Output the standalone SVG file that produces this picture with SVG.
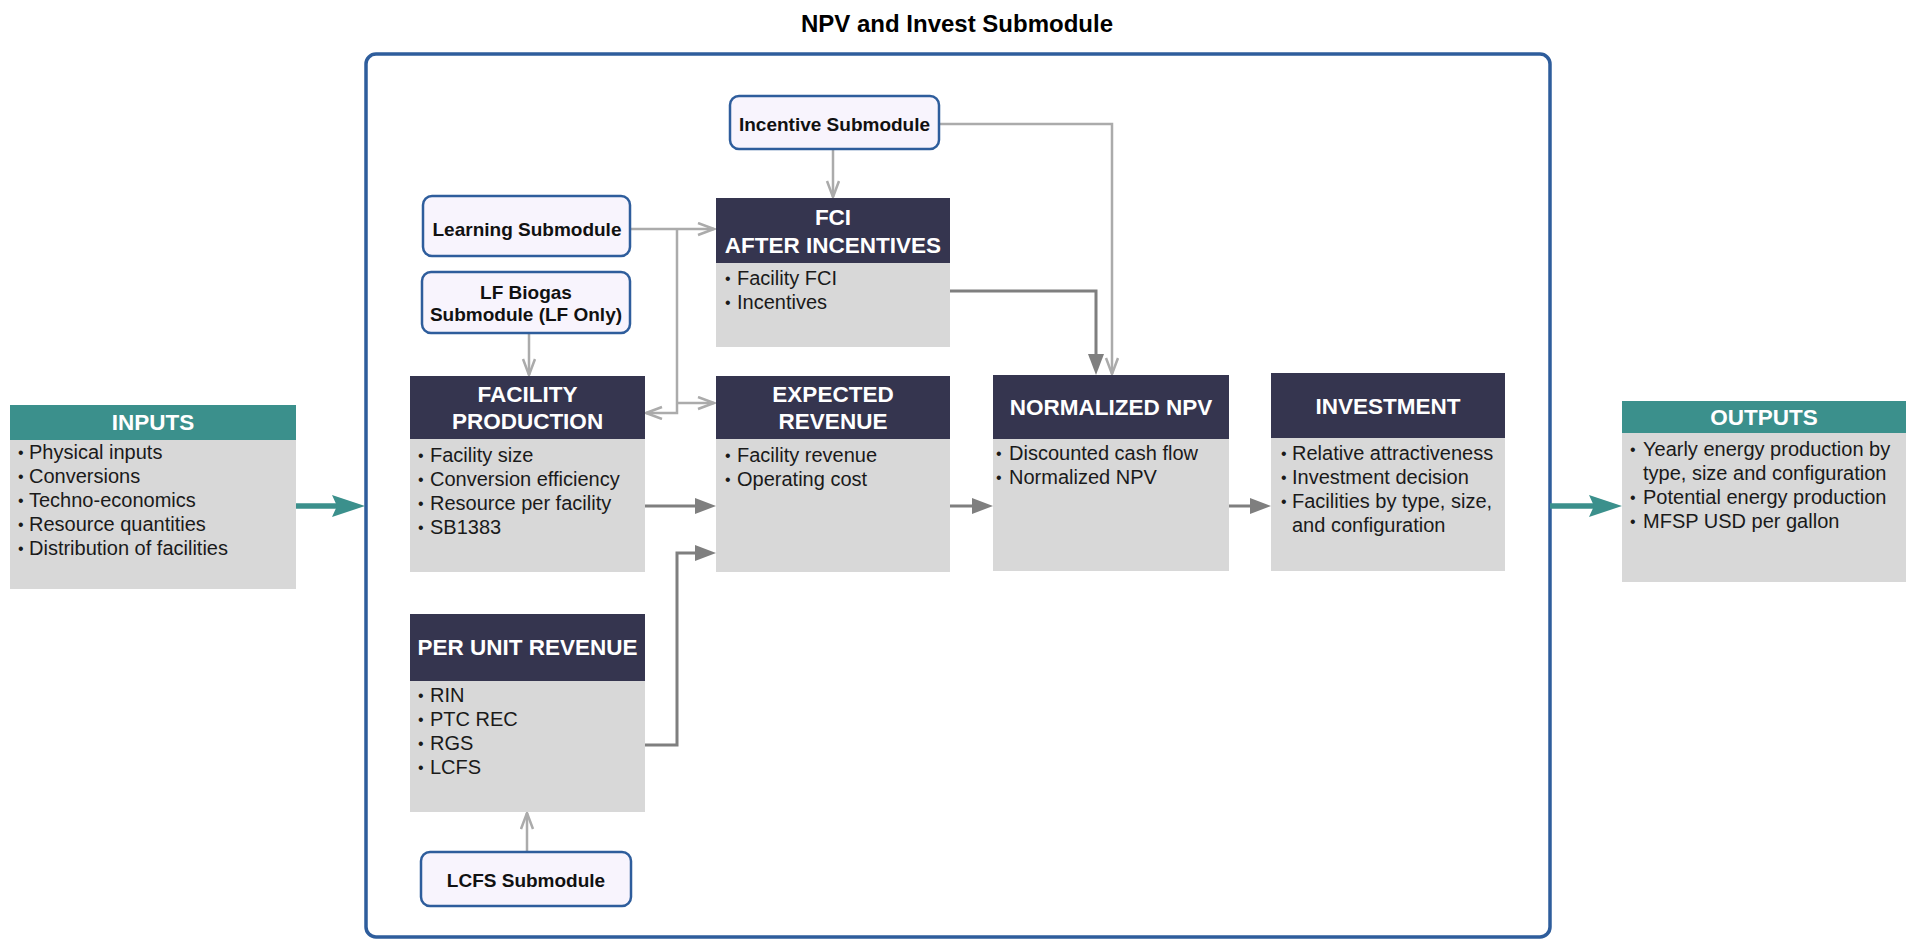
<svg xmlns="http://www.w3.org/2000/svg" width="1906" height="940" viewBox="0 0 1906 940">
  <style>
    text { font-family: "Liberation Sans", Arial, Helvetica, sans-serif; }
    .title { font-size: 24px; font-weight: bold; fill: #000; }
    .frame { fill: none; stroke: #2e5d9c; stroke-width: 3.5; }
    .sub { fill: #f8f4fd; stroke: #2e5d9c; stroke-width: 2.5; }
    .subtxt { font-size: 19px; font-weight: bold; fill: #111; text-anchor: middle; }
    .hdr { fill: #35354f; }
    .hdrtxt { font-size: 22.5px; font-weight: bold; fill: #fff; text-anchor: middle; }
    .body { fill: #d8d8d8; }
    .teal { fill: #3b908c; }
    .item { font-size: 20px; fill: #1a1a1a; }
    .item .b { font-size: 16px; transform: translateY(-1.5px); }
    .lite { fill: none; stroke: #ababab; stroke-width: 2.5; }
    .dark { fill: none; stroke: #7f7f7f; stroke-width: 3; }
    .flow { fill: none; stroke: #3b908c; stroke-width: 5.5; }
  </style>
  <defs>
    <marker id="open" markerUnits="userSpaceOnUse" markerWidth="20" markerHeight="16" viewBox="0 0 20 16" refX="17" refY="7" orient="auto">
      <path d="M1,1 L17,7 L1,13" fill="none" stroke="#ababab" stroke-width="2.5"/>
    </marker>
    <marker id="solid" markerUnits="userSpaceOnUse" markerWidth="22" markerHeight="18" viewBox="0 0 22 18" refX="12" refY="8" orient="auto">
      <path d="M0,0 L21,8 L0,16 z" fill="#7f7f7f"/>
    </marker>
    <marker id="bold" markerUnits="userSpaceOnUse" markerWidth="34" markerHeight="24" viewBox="0 0 34 24" refX="20" refY="11" orient="auto">
      <path d="M0,0 L33,11 L0,22 L5,11 z" fill="#3b908c"/>
    </marker>
  </defs>

  <rect width="1906" height="940" fill="#fff"/>

  <text class="title" x="957" y="32" text-anchor="middle">NPV and Invest Submodule</text>

  <!-- submodule boundary -->
  <rect id="npv-invest-frame" class="frame" x="366" y="54" width="1184" height="883" rx="10"/>

  <!-- connectors -->
  <g id="connectors">
    <path class="lite" d="M833,149 V197" marker-end="url(#open)"/>
    <path class="lite" d="M939,124 H1112 V374" marker-end="url(#open)"/>
    <path class="lite" d="M630,229 H714" marker-end="url(#open)"/>
    <path class="lite" d="M677,229 V413 H646" marker-end="url(#open)"/>
    <path class="lite" d="M677,403 H714" marker-end="url(#open)"/>
    <path class="lite" d="M529,333 V375" marker-end="url(#open)"/>
    <path class="lite" d="M527,852 V813" marker-end="url(#open)"/>

    <path class="dark" d="M946,291 H1096 V366" marker-end="url(#solid)"/>
    <path class="dark" d="M645,506 H707" marker-end="url(#solid)"/>
    <path class="dark" d="M645,745 H677 V553 H707" marker-end="url(#solid)"/>
    <path class="dark" d="M950,506 H984" marker-end="url(#solid)"/>
    <path class="dark" d="M1229,506 H1262" marker-end="url(#solid)"/>

    <path class="flow" d="M293,506 H352" marker-end="url(#bold)"/>
    <path class="flow" d="M1550,506 H1609" marker-end="url(#bold)"/>
  </g>

  <!-- inputs -->
  <g id="inputs">
    <rect class="body" x="10" y="440" width="286" height="149"/>
    <rect class="teal" x="10" y="405" width="286" height="35"/>
    <text class="hdrtxt" x="153" y="430" font-size="22">INPUTS</text>
    <g class="item">
      <text class="b" x="18" y="459">•</text><text x="29" y="459">Physical inputs</text>
      <text class="b" x="18" y="483">•</text><text x="29" y="483">Conversions</text>
      <text class="b" x="18" y="507">•</text><text x="29" y="507">Techno-economics</text>
      <text class="b" x="18" y="531">•</text><text x="29" y="531">Resource quantities</text>
      <text class="b" x="18" y="555">•</text><text x="29" y="555">Distribution of facilities</text>
    </g>
  </g>

  <!-- outputs -->
  <g id="outputs">
    <rect class="body" x="1622" y="433" width="284" height="149"/>
    <rect class="teal" x="1622" y="401" width="284" height="32"/>
    <text class="hdrtxt" x="1764" y="425" font-size="22">OUTPUTS</text>
    <g class="item">
      <text class="b" x="1630" y="456">•</text><text x="1643" y="456">Yearly energy production by</text>
      <text x="1643" y="480">type, size and configuration</text>
      <text class="b" x="1630" y="504">•</text><text x="1643" y="504">Potential energy production</text>
      <text class="b" x="1630" y="528">•</text><text x="1643" y="528">MFSP USD per gallon</text>
    </g>
  </g>

  <!-- submodule inputs -->
  <g id="incentive-submodule">
    <rect class="sub" x="730" y="96" width="209" height="53" rx="9"/>
    <text class="subtxt" x="834.5" y="131">Incentive Submodule</text>
  </g>
  <g id="learning-submodule">
    <rect class="sub" x="423" y="196" width="207" height="60" rx="9"/>
    <text class="subtxt" x="527" y="236">Learning Submodule</text>
  </g>
  <g id="lf-biogas-submodule">
    <rect class="sub" x="422" y="272" width="208" height="61" rx="9"/>
    <text class="subtxt" x="526" y="299">LF Biogas</text>
    <text class="subtxt" x="526" y="321">Submodule (LF Only)</text>
  </g>
  <g id="lcfs-submodule">
    <rect class="sub" x="421" y="852" width="210" height="54" rx="9"/>
    <text class="subtxt" x="526" y="887">LCFS Submodule</text>
  </g>

  <!-- calculation blocks -->
  <g id="fci-after-incentives">
    <rect class="body" x="716" y="263" width="234" height="84"/>
    <rect class="hdr" x="716" y="198" width="234" height="65"/>
    <text class="hdrtxt" x="833" y="225">FCI</text>
    <text class="hdrtxt" x="833" y="253">AFTER INCENTIVES</text>
    <g class="item">
      <text class="b" x="725" y="285">•</text><text x="737" y="285">Facility FCI</text>
      <text class="b" x="725" y="309">•</text><text x="737" y="309">Incentives</text>
    </g>
  </g>

  <g id="facility-production">
    <rect class="body" x="410" y="439" width="235" height="133"/>
    <rect class="hdr" x="410" y="376" width="235" height="63"/>
    <text class="hdrtxt" x="527.5" y="402">FACILITY</text>
    <text class="hdrtxt" x="527.5" y="429">PRODUCTION</text>
    <g class="item">
      <text class="b" x="418" y="462">•</text><text x="430" y="462">Facility size</text>
      <text class="b" x="418" y="486">•</text><text x="430" y="486">Conversion efficiency</text>
      <text class="b" x="418" y="510">•</text><text x="430" y="510">Resource per facility</text>
      <text class="b" x="418" y="534">•</text><text x="430" y="534">SB1383</text>
    </g>
  </g>

  <g id="expected-revenue">
    <rect class="body" x="716" y="439" width="234" height="133"/>
    <rect class="hdr" x="716" y="376" width="234" height="63"/>
    <text class="hdrtxt" x="833" y="402">EXPECTED</text>
    <text class="hdrtxt" x="833" y="429">REVENUE</text>
    <g class="item">
      <text class="b" x="725" y="462">•</text><text x="737" y="462">Facility revenue</text>
      <text class="b" x="725" y="486">•</text><text x="737" y="486">Operating cost</text>
    </g>
  </g>

  <g id="normalized-npv">
    <rect class="body" x="993" y="439" width="236" height="132"/>
    <rect class="hdr" x="993" y="375" width="236" height="64"/>
    <text class="hdrtxt" x="1111" y="415">NORMALIZED NPV</text>
    <g class="item">
      <text class="b" x="996" y="460">•</text><text x="1009" y="460">Discounted cash flow</text>
      <text class="b" x="996" y="484">•</text><text x="1009" y="484">Normalized NPV</text>
    </g>
  </g>

  <g id="investment">
    <rect class="body" x="1271" y="438" width="234" height="133"/>
    <rect class="hdr" x="1271" y="373" width="234" height="65"/>
    <text class="hdrtxt" x="1388" y="414">INVESTMENT</text>
    <g class="item">
      <text class="b" x="1281" y="460">•</text><text x="1292" y="460">Relative attractiveness</text>
      <text class="b" x="1281" y="484">•</text><text x="1292" y="484">Investment decision</text>
      <text class="b" x="1281" y="508">•</text><text x="1292" y="508">Facilities by type, size,</text>
      <text x="1292" y="532">and configuration</text>
    </g>
  </g>

  <g id="per-unit-revenue">
    <rect class="body" x="410" y="681" width="235" height="131"/>
    <rect class="hdr" x="410" y="614" width="235" height="67"/>
    <text class="hdrtxt" x="527.5" y="655">PER UNIT REVENUE</text>
    <g class="item">
      <text class="b" x="418" y="702">•</text><text x="430" y="702">RIN</text>
      <text class="b" x="418" y="726">•</text><text x="430" y="726">PTC REC</text>
      <text class="b" x="418" y="750">•</text><text x="430" y="750">RGS</text>
      <text class="b" x="418" y="774">•</text><text x="430" y="774">LCFS</text>
    </g>
  </g>
</svg>
